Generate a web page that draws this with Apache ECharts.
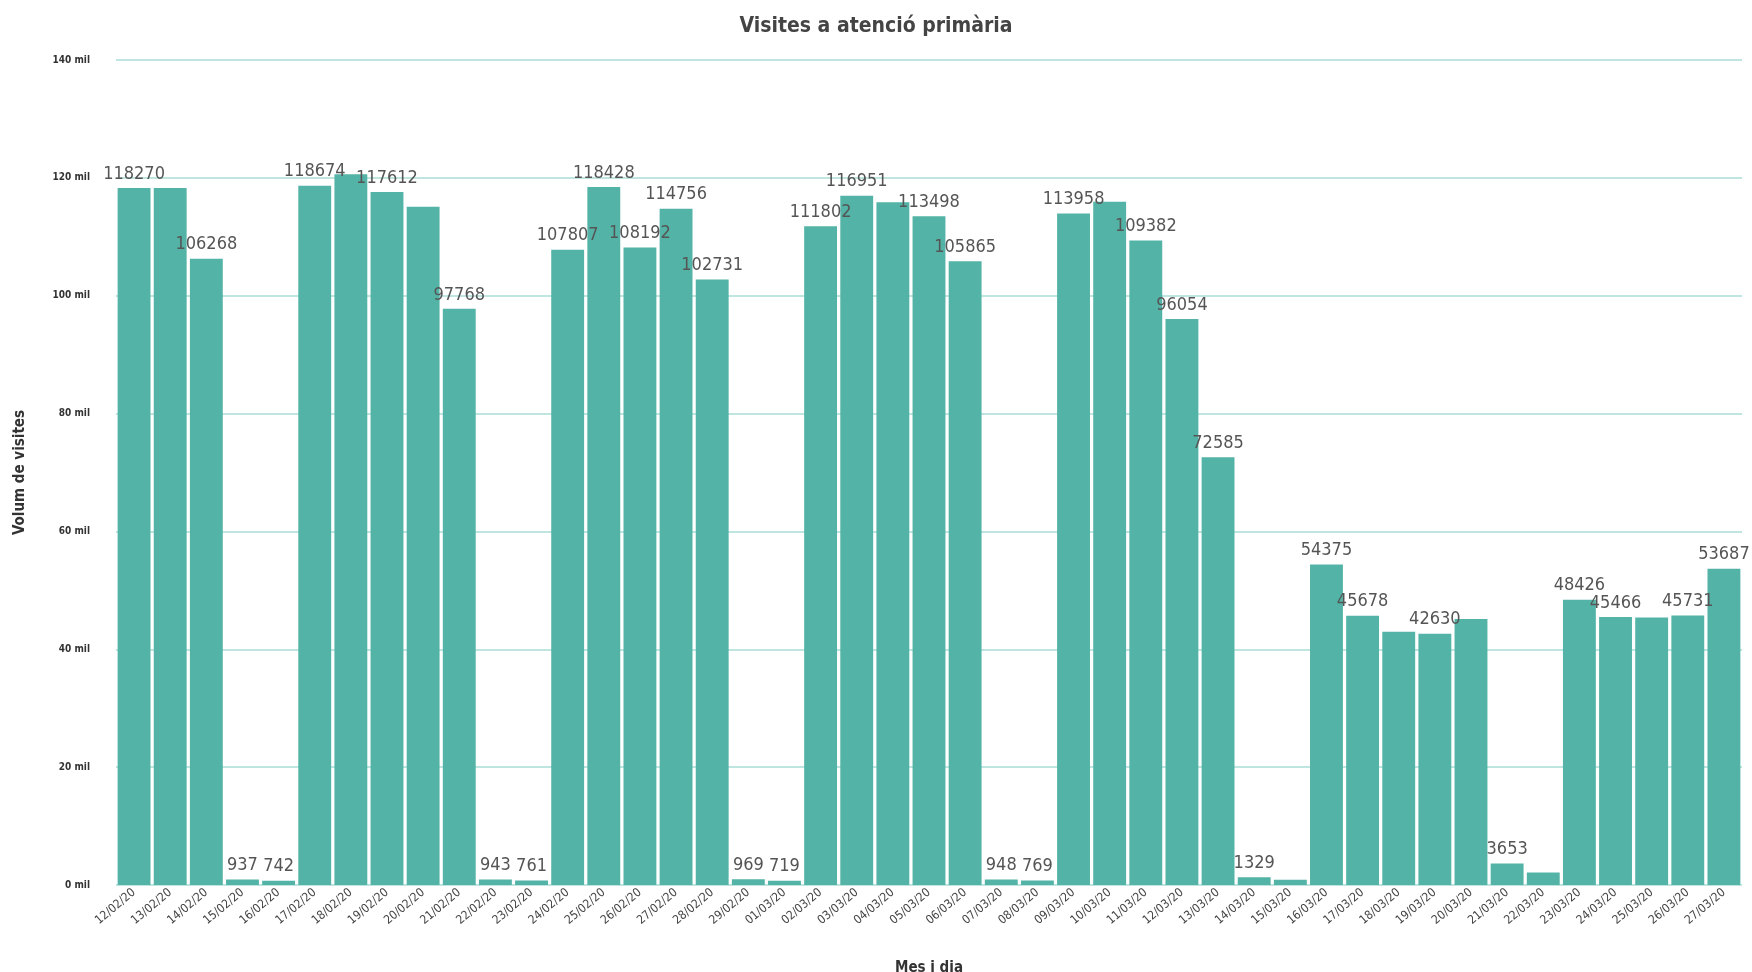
<!DOCTYPE html>
<html>
<head>
<meta charset="utf-8">
<script src="https://cdn.jsdelivr.net/npm/echarts@6/dist/echarts.min.js"></script>
<style>html,body{margin:0;padding:0;background:#fff;}#c{width:1752px;height:972px;}</style>
</head>
<body>
<div id="c"></div>
<script>
const dates = ['12/02/20','13/02/20','14/02/20','15/02/20','16/02/20','17/02/20','18/02/20','19/02/20','20/02/20','21/02/20','22/02/20','23/02/20','24/02/20','25/02/20','26/02/20','27/02/20','28/02/20','29/02/20','01/03/20','02/03/20','03/03/20','04/03/20','05/03/20','06/03/20','07/03/20','08/03/20','09/03/20','10/03/20','11/03/20','12/03/20','13/03/20','14/03/20','15/03/20','16/03/20','17/03/20','18/03/20','19/03/20','20/03/20','21/03/20','22/03/20','23/03/20','24/03/20','25/03/20','26/03/20','27/03/20'];
const visits = [118270,118300,106268,937,742,118674,120600,117612,115100,97768,943,761,107807,118428,108192,114756,102731,969,719,111802,116951,115870,113498,105865,948,769,113958,115940,109382,96054,72585,1329,870,54375,45678,42990,42630,45140,3653,2130,48426,45466,45380,45731,53687];
const hiddenLabels = [1,6,8,21,27,32,35,37,39,42];
const yTicks = [0,20000,40000,60000,80000,100000,120000,140000];

const chart = echarts.init(document.getElementById('c'));
chart.setOption({
  backgroundColor: '#fff',
  animation: false,
  title: {
    text: 'Visites a atenció primària',
    left: 'center',
    top: 11,
    textStyle: {fontFamily: 'DejaVu Sans Condensed', fontSize: 21, fontWeight: 'bold', color: '#444'}
  },
  grid: {left: 116, right: 10, top: 60, bottom: 87, containLabel: false, outerBoundsMode: 'none'},
  xAxis: {
    type: 'category',
    data: dates,
    name: 'Mes i dia',
    nameLocation: 'middle',
    nameGap: 76,
    nameTextStyle: {fontFamily: 'DejaVu Sans Condensed', fontSize: 15, fontWeight: 'bold', color: '#333'},
    axisLine: {show: false},
    axisTick: {show: false},
    axisLabel: {rotate: 40, interval: 0, fontFamily: 'DejaVu Sans Condensed', fontSize: 12, color: '#444', margin: 6}
  },
  yAxis: {
    type: 'value',
    min: yTicks[0],
    max: yTicks[yTicks.length - 1],
    interval: 20000,
    name: 'Volum de visites',
    nameLocation: 'middle',
    nameGap: 88,
    nameTextStyle: {fontFamily: 'DejaVu Sans Condensed', fontSize: 15, fontWeight: 'bold', color: '#333'},
    axisLine: {show: false},
    axisTick: {show: false},
    splitLine: {lineStyle: {color: '#a9ddd4', width: 1.5}},
    axisLabel: {
      margin: 26,
      fontFamily: 'DejaVu Sans Condensed', fontSize: 10, fontWeight: 'bold', color: '#333',
      formatter: v => (v / 1000) + ' mil'
    }
  },
  series: [{
    type: 'bar',
    data: visits,
    barCategoryGap: '9%',
    itemStyle: {color: '#53b3a6'},
    label: {
      show: true,
      position: 'top',
      distance: 5,
      fontFamily: 'DejaVu Sans Condensed',
      fontSize: 18,
      color: '#555',
      formatter: p => hiddenLabels.includes(p.dataIndex) ? '' : String(p.value)
    }
  }]
});
</script>
</body>
</html>
